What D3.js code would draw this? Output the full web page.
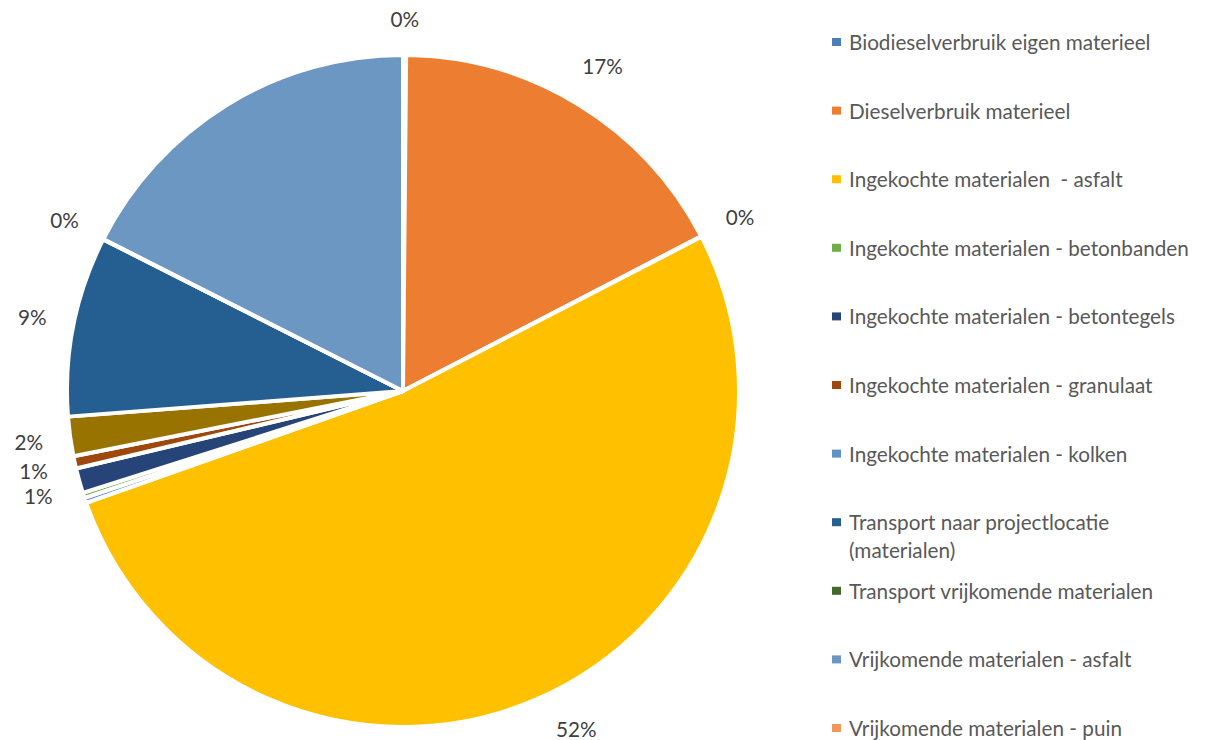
<!DOCTYPE html>
<html>
<head>
<meta charset="utf-8">
<script src="https://cdnjs.cloudflare.com/ajax/libs/d3/7.8.5/d3.min.js"></script>
<style>
  html, body { margin: 0; padding: 0; background: #fff; }
  svg { display: block; }
  text { font-family: Lato, "Open Sans", sans-serif; fill: #595959; white-space: pre; }
</style>
</head>
<body>
<svg id="chart"></svg>
<script>
// legend entries (as far as they are visible)
const legendNames = [
  'Biodieselverbruik eigen materieel',
  'Dieselverbruik materieel',
  'Ingekochte materialen  - asfalt',
  'Ingekochte materialen - betonbanden',
  'Ingekochte materialen - betontegels',
  'Ingekochte materialen - granulaat',
  'Ingekochte materialen - kolken',
  'Transport naar projectlocatie (materialen)',
  'Transport vrijkomende materialen',
  'Vrijkomende materialen - asfalt',
  'Vrijkomende materialen - puin'
];
const legendColors = [
  '#4a7ebb', '#ed7d31', '#ffc000', '#70ad47', '#264478', '#9e480e',
  '#5e93c8', '#255e91', '#43682b', '#6b97c2', '#f1975a'
];

// pie slices, clockwise from 12 o'clock (share in %)
const sliceNames = [
  'Biodieselverbruik eigen materieel',
  'Dieselverbruik materieel',
  'Vrijkomende materialen - puin',
  'Ingekochte materialen  - asfalt',
  'Ingekochte materialen - kolken',
  'Ingekochte materialen - betonbanden',
  'Ingekochte materialen - betontegels',
  'Ingekochte materialen - granulaat',
  'Overig',
  'Transport naar projectlocatie (materialen)',
  'Transport vrijkomende materialen',
  'Vrijkomende materialen - asfalt'
];
const sliceValues = [0.15, 17.3, 0.03, 52.4, 0.25, 0.25, 1.2, 0.6, 1.9, 8.7, 0.02, 17.6];
// slices whose data label is not shown
const unlabeled = [
  'Ingekochte materialen - kolken',
  'Ingekochte materialen - betonbanden',
  'Vrijkomende materialen - asfalt'
];

const WIDTH = 1229;
const HEIGHT = 740;
const CENTER = { x: 403, y: 391 };
const RADIUS = 336;
const LABEL_GAP = 26;
const LABEL_MIN_DY = 24.5;
const LEGEND = { x: 832, top: 42, bottom: 728, textX: 849, maxWidth: 345, lineHeight: 28 };

const color = d3.scaleOrdinal()
  .domain(legendNames.concat(['Overig']))
  .range(legendColors.concat(['#997300']));

const $svg = d3.select('#chart')
  .attr('width', WIDTH)
  .attr('height', HEIGHT);

// font size: fit the widest legend entry to its width in the original
const probe = $svg.append('text').text('Ingekochte materialen - betonbanden').style('font-size', '20px');
const FONT = 20 * 340 / probe.node().getComputedTextLength();
probe.remove();

const total = d3.sum(sliceValues);
const slices = sliceNames.map((name, i) => ({ name, value: sliceValues[i] }));

const pie = d3.pie().sort(null).value(d => d.value);
const arc = d3.arc().innerRadius(0).outerRadius(RADIUS);

const pieG = $svg.append('g')
  .attr('class', 'pie')
  .attr('transform', `translate(${CENTER.x},${CENTER.y})`);

const arcs = pie(slices);

pieG.selectAll('path')
  .data(arcs)
  .enter().append('path')
  .attr('d', arc)
  .attr('fill', d => color(d.data.name))
  .attr('stroke', '#fff')
  .attr('stroke-width', 4)
  .attr('stroke-linejoin', 'round');

// data labels, "outside end": box just outside the rim
const labelG = pieG.append('g').attr('class', 'labels');
const labels = [];
arcs.filter(d => unlabeled.indexOf(d.data.name) < 0).forEach(d => {
  const t = labelG.append('text')
    .style('font-size', FONT + 'px')
    .attr('text-anchor', 'middle')
    .attr('dominant-baseline', 'central')
    .style('fill', '#404040')
    .text(Math.round(d.value / total * 100) + '%');
  const w = t.node().getComputedTextLength();
  const h = FONT;
  const a = (d.startAngle + d.endAngle) / 2;
  const r = RADIUS + LABEL_GAP + Math.abs(Math.sin(a)) * w / 2 + Math.abs(Math.cos(a)) * h / 2;
  let lx = Math.sin(a) * r;
  let ly = -Math.cos(a) * r;
  // keep inside the chart area: slide along the circle
  const maxY = HEIGHT - CENTER.y - h / 2 - 1;
  if (ly > maxY) {
    ly = maxY;
    lx = Math.sign(lx) * Math.sqrt(r * r - ly * ly);
  }
  labels.push({ t, x: lx, y: ly, side: lx < 0 ? 'left' : 'right' });
});

// push apart labels that collide on the same side
['left', 'right'].forEach(side => {
  const list = labels.filter(l => l.side === side).sort((a, b) => a.y - b.y);
  for (let i = 1; i < list.length; i++) {
    if (list[i].y - list[i - 1].y < LABEL_MIN_DY) list[i].y = list[i - 1].y + LABEL_MIN_DY;
  }
});
labels.forEach(l => l.t.attr('x', l.x).attr('y', l.y));

// legend
const y = d3.scalePoint().domain(legendNames).range([LEGEND.top, LEGEND.bottom]);

const legend = $svg.append('g').attr('class', 'legend');
const item = legend.selectAll('.item')
  .data(legendNames)
  .enter().append('g')
  .attr('class', 'item')
  .attr('transform', d => `translate(0,${y(d)})`);

item.append('rect')
  .attr('x', LEGEND.x)
  .attr('y', -4)
  .attr('width', 9)
  .attr('height', 8)
  .attr('fill', (d, i) => legendColors[i]);

item.each(function (d) {
  const g = d3.select(this);
  const t = g.append('text')
    .attr('x', LEGEND.textX)
    .attr('dominant-baseline', 'central')
    .style('font-size', FONT + 'px');
  // simple word wrap
  const words = d.split(' ');
  let line = [];
  let tspan = t.append('tspan').attr('x', LEGEND.textX).attr('dy', 0);
  words.forEach(word => {
    line.push(word);
    tspan.text(line.join(' '));
    if (tspan.node().getComputedTextLength() > LEGEND.maxWidth && line.length > 1) {
      line.pop();
      tspan.text(line.join(' '));
      line = [word];
      tspan = t.append('tspan').attr('x', LEGEND.textX).attr('dy', LEGEND.lineHeight).text(word);
    }
  });
});
</script>
</body>
</html>
